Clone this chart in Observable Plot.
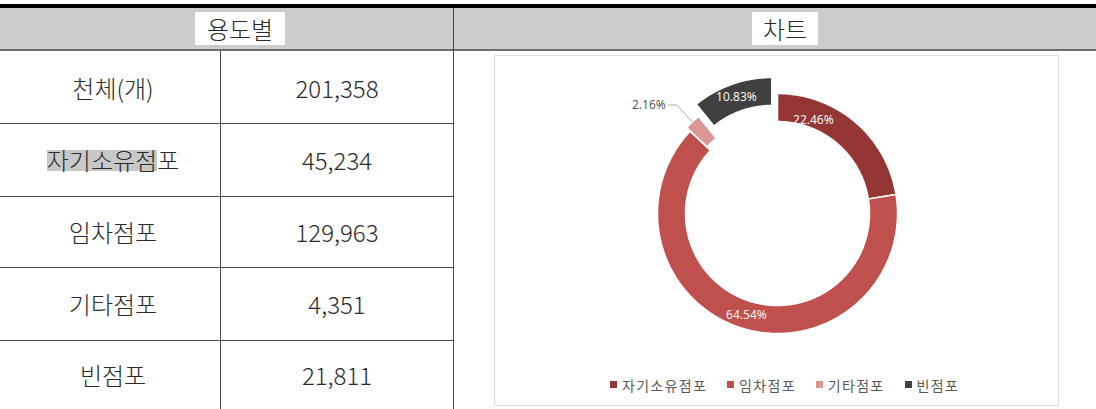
<!DOCTYPE html>
<html><head><meta charset="utf-8">
<script src="https://cdn.jsdelivr.net/npm/d3@7"></script>
<script src="https://cdn.jsdelivr.net/npm/@observablehq/plot@0.6"></script>
<style>
html,body{margin:0;padding:0;background:#fff;width:1096px;height:409px;overflow:hidden;font-family:"Noto Sans CJK KR","Noto Sans",sans-serif;}
#page{position:relative;width:1096px;height:409px;}
.abs{position:absolute;}
.topline{left:0;top:4px;width:1096px;height:4px;background:#000;}
.header{left:0;top:8px;width:1096px;height:41px;background:#cccccc;border-bottom:2px solid #6e6e6e;}
.hbox{background:#fff;height:33px;top:12px;font-size:24px;line-height:33px;text-align:center;color:#2a2a2a;font-weight:300;}
.vline{width:1px;background:#4a4a4a;}
.hline{height:1px;background:#4a4a4a;left:0;width:453px;}
.cell{font-size:24px;color:#2a2a2a;font-weight:300;display:flex;align-items:center;justify-content:center;}
.hl{background:linear-gradient(to bottom,transparent 22%,#c8c8c8 22%,#c8c8c8 82%,transparent 82%);}
.chartbox{left:494px;top:55px;width:563px;height:349px;border:1px solid #dedede;}
.lg-swatch{margin-right:20px !important;letter-spacing:1.3px;}
.lg-swatch > svg{margin-right:5px !important;}
</style></head>
<body><div id="page"></div>
<script>
// ---- data ----
const tableLabels = ["천체(개)", "자기소유점포", "임차점포", "기타점포", "빈점포"];
const tableValues = ["201,358", "45,234", "129,963", "4,351", "21,811"];
const categories = ["자기소유점포", "임차점포", "기타점포", "빈점포"];
const shares = [22.46, 64.54, 2.16, 10.83];
const colors = ["#943634", "#c0504d", "#d99694", "#404040"];
const headers = ["용도별", "차트"];

// ---- table layout ----
const page = document.getElementById("page");
function el(cls, css, html) {
  const d = document.createElement("div");
  d.className = "abs " + cls;
  Object.assign(d.style, css);
  if (html != null) d.innerHTML = html;
  page.appendChild(d);
  return d;
}
el("topline", {});
el("header", {});
el("hbox", {left: "195px", width: "90px"}, headers[0]);
el("hbox", {left: "752px", width: "66px"}, headers[1]);
el("vline", {left: "453px", top: "8px", height: "401px"});
el("vline", {left: "220px", top: "51px", height: "358px"});
const rowEdges = [51, 123, 196, 267, 340, 409];
tableLabels.forEach((lab, i) => {
  const top = rowEdges[i], h = rowEdges[i + 1] - rowEdges[i];
  if (i > 0) el("hline", {top: top + "px"});
  let txt = lab;
  if (lab === "자기소유점포") txt = '<span class="hl">자기소유점</span>포';
  el("cell", {left: "0px", width: "226px", top: top + "px", height: h + "px"}, txt);
  el("cell", {left: "221px", width: "232px", top: top + "px", height: h + "px"}, tableValues[i]);
});
el("chartbox", {});

// ---- donut geometry from data ----
const total = d3.sum(shares);
let acc = 0;
const slices = categories.map((c, i) => {
  const a0 = acc / total * 2 * Math.PI;
  acc += shares[i];
  const a1 = acc / total * 2 * Math.PI;
  return {c, v: shares[i], a0, a1};
});
const explode = {"기타점포": 5, "빈점포": 17};
const labelAlong = {"자기소유점포": 0.26};
const R1 = 120, R0 = 92;
const pts = [], labels = [], leader = [], outside = [];
for (const s of slices) {
  const mid = (s.a0 + s.a1) / 2, e = explode[s.c] || 0;
  const ox = e * Math.sin(mid), oy = e * Math.cos(mid);
  const n = Math.max(2, Math.ceil((s.a1 - s.a0) / (Math.PI / 180)));
  for (let k = 0; k <= n; k++) {
    const a = s.a0 + (s.a1 - s.a0) * k / n;
    pts.push({c: s.c, x: ox + R1 * Math.sin(a), y: oy + R1 * Math.cos(a)});
  }
  for (let k = n; k >= 0; k--) {
    const a = s.a0 + (s.a1 - s.a0) * k / n;
    pts.push({c: s.c, x: ox + R0 * Math.sin(a), y: oy + R0 * Math.cos(a)});
  }
  const txt = s.v.toFixed(2) + "%";
  if (s.v < 5) {
    const ex = ox + R1 * Math.sin(mid), ey = oy + R1 * Math.cos(mid);
    const bx = ox + 143 * Math.sin(mid), by = oy + 143 * Math.cos(mid);
    leader.push({x: ex, y: ey}, {x: bx, y: by}, {x: bx - 8, y: by});
    outside.push({x: bx - 11, y: by, t: txt});
  } else {
    const f = labelAlong[s.c] ?? 0.5;
    const la = s.a0 + (s.a1 - s.a0) * f;
    const lr = s.c === "자기소유점포" ? 100 : 106;
    labels.push({x: ox + lr * Math.sin(la), y: oy + lr * Math.cos(la), t: txt});
  }
}

const chart = Plot.plot({
  width: 564, height: 310, margin: 0,
  x: {domain: [-283, 281], axis: null},
  y: {domain: [-152, 158], axis: null},
  color: {domain: categories, range: colors},
  style: {background: "transparent", fontFamily: "'Noto Sans', sans-serif", overflow: "visible"},
  marks: [
    Plot.line(pts, {x: "x", y: "y", z: "c", fill: "c", stroke: "white", strokeWidth: 1.5, curve: "linear-closed"}),
    Plot.line(leader, {x: "x", y: "y", stroke: "#a6a6a6", strokeWidth: 1}),
    Plot.text(labels, {x: "x", y: "y", text: "t", fill: "#f4f4f4", fontSize: 12}),
    Plot.text(outside, {x: "x", y: "y", text: "t", fill: "#595959", fontSize: 12, textAnchor: "end"})
  ]
});
chart.style.position = "absolute";
chart.style.left = "494px";
chart.style.top = "55px";
page.appendChild(chart);

const legend = chart.legend("color", {
  legend: "swatches", swatchSize: 7, className: "lg",
  style: {fontSize: "14px", fontFamily: "'Noto Sans CJK KR', sans-serif", color: "#595959"}
});
legend.style.position = "absolute";
legend.style.left = "610px";
legend.style.top = "368px";
legend.style.fontSize = "14px";
legend.style.color = "#595959";
page.appendChild(legend);
</script>
</body></html>
